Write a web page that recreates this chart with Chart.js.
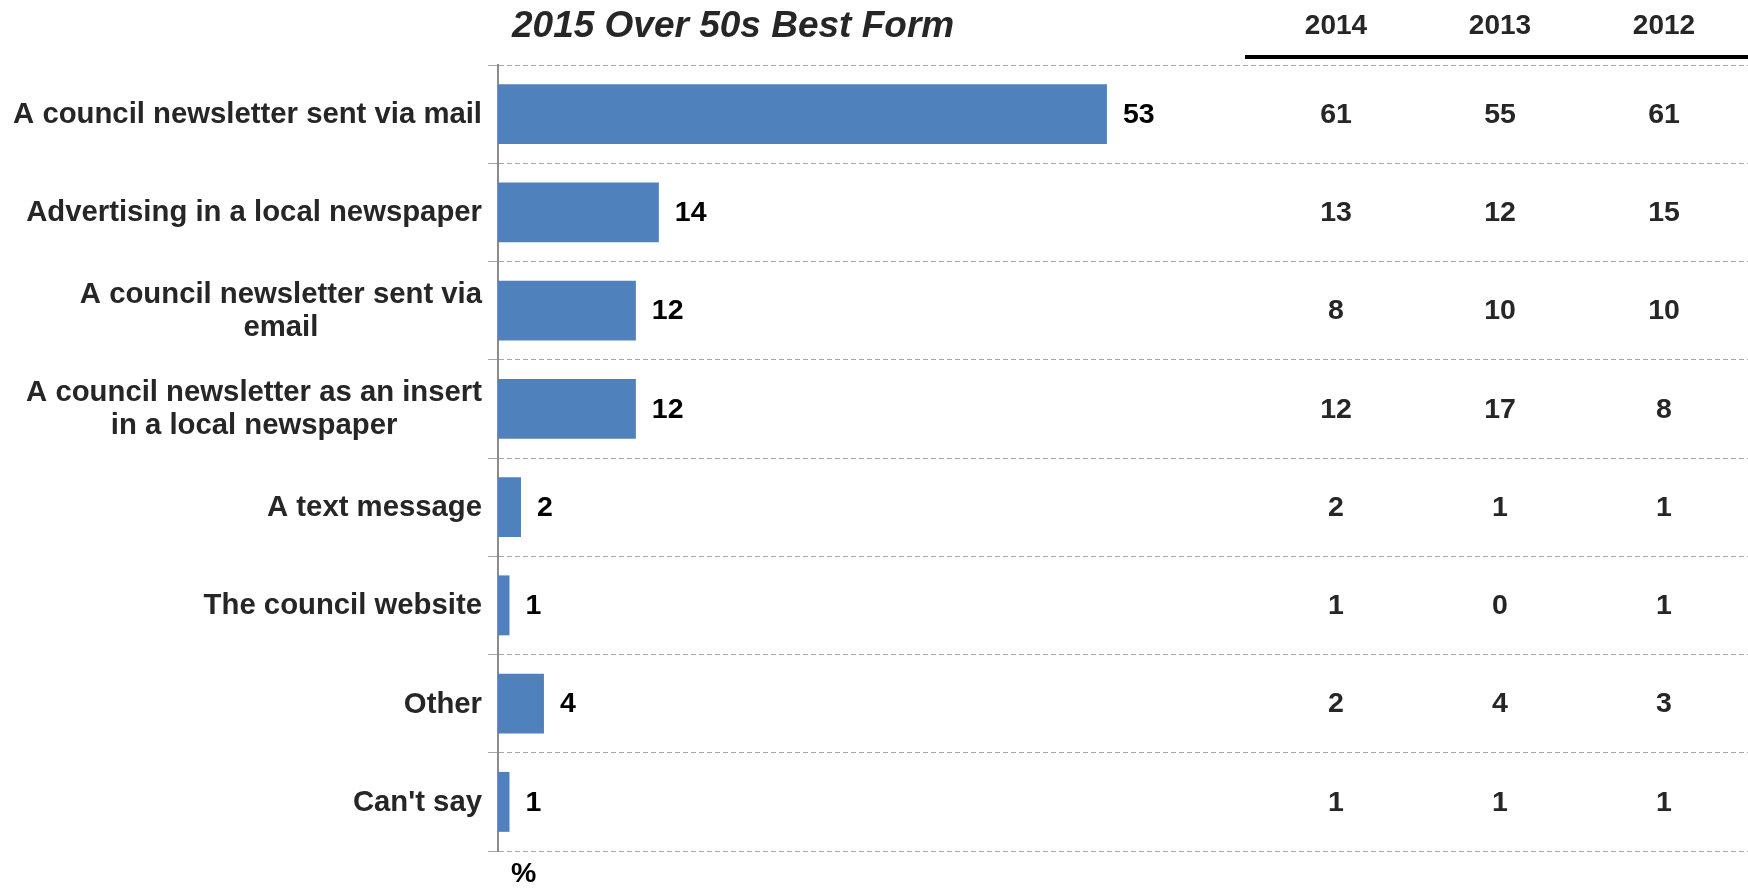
<!DOCTYPE html>
<html>
<head>
<meta charset="utf-8">
<script src="https://cdn.jsdelivr.net/npm/chart.js@4/dist/chart.umd.min.js"></script>
<style>
  html, body { margin: 0; padding: 0; background: #fff; }
  #wrap { width: 1748px; height: 888px; }
</style>
</head>
<body>
<div id="wrap"><canvas id="myChart" width="1748" height="888"></canvas></div>
<script>
// chart data

const chartTitle = '2015 Over 50s Best Form'
const categories = [
    'A council newsletter sent via mail',
    'Advertising in a local newspaper',
    ['A council newsletter sent via', 'email'],
    ['A council newsletter as an insert', 'in a local newspaper'],
    'A text message',
    'The council website',
    'Other',
    "Can't say"
]
const values2015 = [53, 14, 12, 12, 2, 1, 4, 1]
const years = ['2014', '2013', '2012']
const values2014 = [61, 13, 8, 12, 2, 1, 2, 1]
const values2013 = [55, 12, 10, 17, 1, 0, 4, 1]
const values2012 = [61, 15, 10, 8, 1, 1, 3, 1]
const tableValues = [values2014, values2013, values2012]

const FONT = '"Liberation Sans", Arial, sans-serif'
const colX = [1336, 1500, 1664]

// text drawn on top: title, labels, values, table

const textPlugin = {
    id: 'textPlugin',
    afterDraw(chart) {
        const ctx = chart.ctx
        const yScale = chart.scales.y
        const meta = chart.getDatasetMeta(0)
        ctx.save()
        ctx.textBaseline = 'middle'

        // title
        ctx.fillStyle = '#262626'
        ctx.font = 'italic bold 37px ' + FONT
        ctx.textAlign = 'left'
        ctx.fillText(chartTitle, 512, 27)

        // year headers + rule
        ctx.font = 'bold 28px ' + FONT
        ctx.textAlign = 'center'
        years.forEach((y, i) => ctx.fillText(y, colX[i], 26))
        ctx.fillStyle = '#000'
        ctx.fillRect(1245, 55, 503, 4)

        // category labels
        ctx.fillStyle = '#262626'
        ctx.font = 'bold 29.3px ' + FONT
        categories.forEach((label, i) => {
            const cy = yScale.getPixelForValue(i)
            const lines = Array.isArray(label) ? label : [label]
            const lh = 33
            const w = Math.max(...lines.map(l => ctx.measureText(l).width))
            const right = 482
            lines.forEach((l, j) => {
                const ly = cy + 1 + (j - (lines.length - 1) / 2) * lh
                if (lines.length > 1) {
                    ctx.textAlign = 'center'
                    ctx.fillText(l, right - w / 2, ly)
                } else {
                    ctx.textAlign = 'right'
                    ctx.fillText(l, right, ly)
                }
            })
        })

        // bar values
        ctx.fillStyle = '#000'
        ctx.font = 'bold 28.5px ' + FONT
        ctx.textAlign = 'left'
        meta.data.forEach((bar, i) => {
            ctx.fillText(values2015[i], bar.x + 16, bar.y + 1)
        })

        // table values
        ctx.fillStyle = '#262626'
        ctx.font = 'bold 28.5px ' + FONT
        ctx.textAlign = 'center'
        tableValues.forEach((col, c) => {
            col.forEach((v, i) => {
                ctx.fillText(v, colX[c], yScale.getPixelForValue(i) + 1)
            })
        })

        // unit
        ctx.fillStyle = '#000'
        ctx.textAlign = 'left'
        ctx.fillText('%', 511, 874)
        ctx.restore()
    }
}

const ctx = document.getElementById('myChart').getContext('2d')
const myChart = new Chart(ctx, {
    type: 'bar',
    data: {
        labels: categories,
        datasets: [{
            label: '2015',
            data: values2015,
            backgroundColor: '#4F81BD',
            borderWidth: 0,
            barPercentage: 0.61,
            categoryPercentage: 1
        }]
    },
    options: {
        indexAxis: 'y',
        responsive: false,
        animation: false,
        layout: {
            padding: { top: 65, bottom: 37, left: 0, right: 0 }
        },
        plugins: {
            legend: { display: false },
            tooltip: { enabled: false },
            title: { display: false }
        },
        scales: {
            x: {
                display: false,
                min: 0,
                max: 108.8
            },
            y: {
                afterFit(scale) { scale.width = 498 },
                ticks: { display: false },
                grid: {
                    offset: true,
                    color: '#A6A6A6',
                    lineWidth: 1,
                    drawTicks: true,
                    tickLength: 10
                },
                border: {
                    display: true,
                    color: '#8C8C8C',
                    width: 2,
                    dash: [5, 3]
                }
            }
        }
    },
    plugins: [textPlugin]
})
</script>
</body>
</html>
